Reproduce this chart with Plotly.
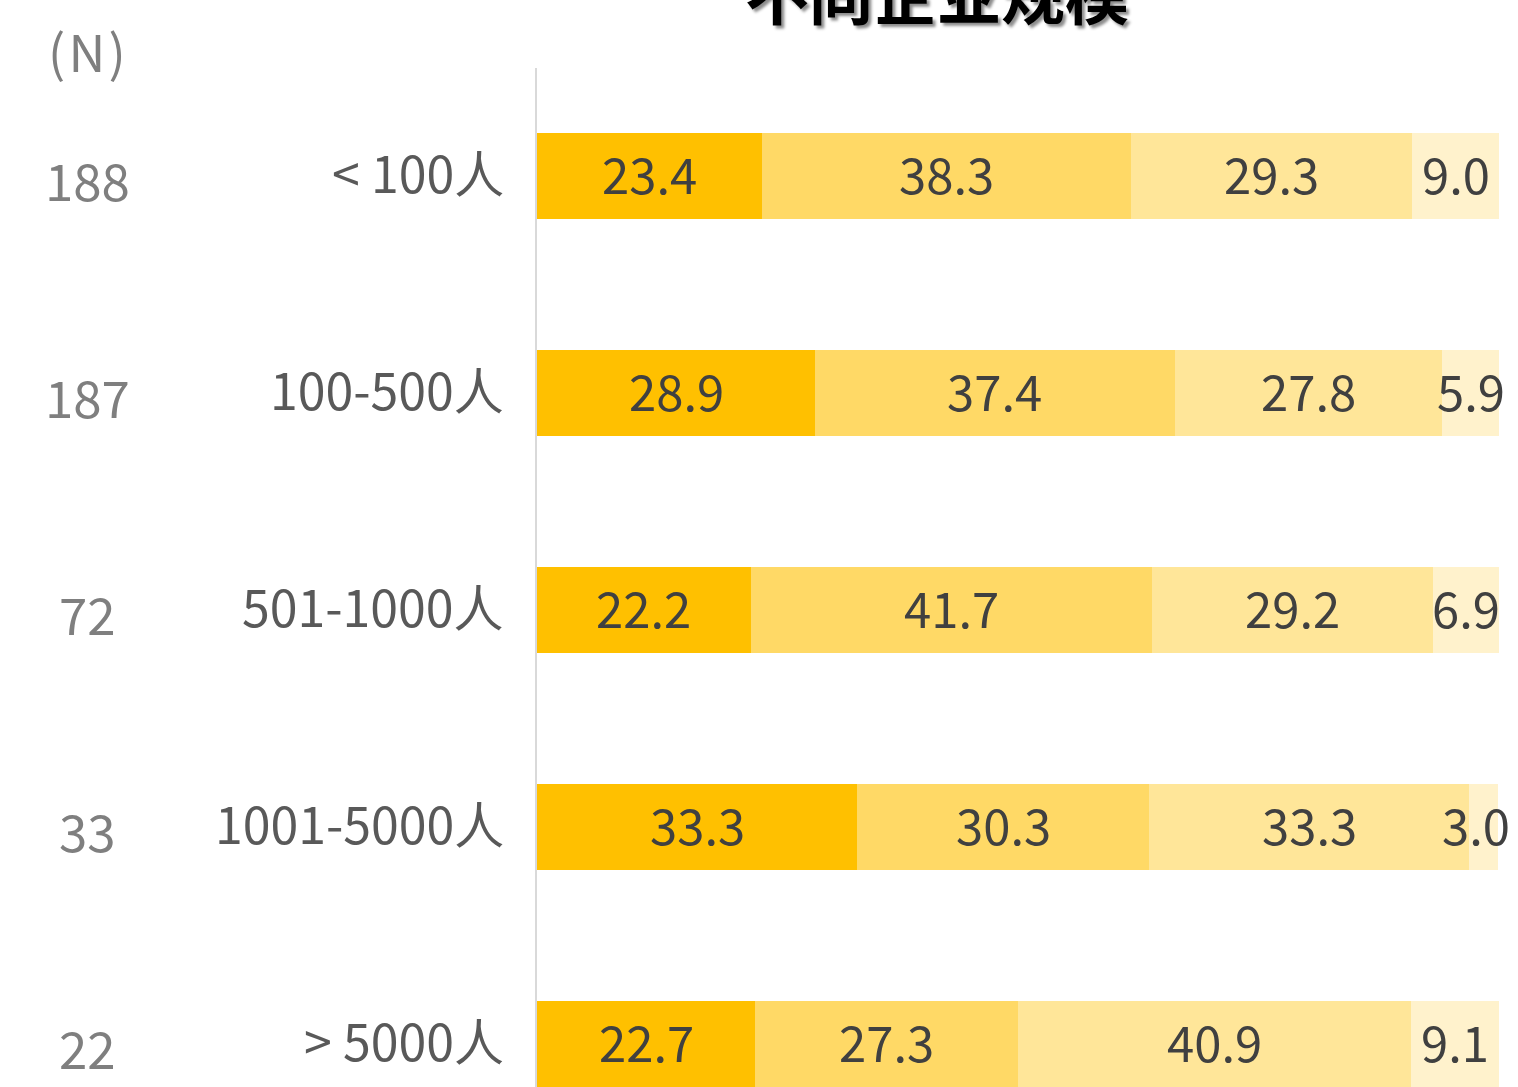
import plotly.graph_objects as go

# Company-size groups, sample sizes and the share of each response level (%)
categories = ["< 100人", "100-500人", "501-1000人", "1001-5000人", "> 5000人"]
sample_n = [188, 187, 72, 33, 22]
level_1 = [23.4, 28.9, 22.2, 33.3, 22.7]
level_2 = [38.3, 37.4, 41.7, 30.3, 27.3]
level_3 = [29.3, 27.8, 29.2, 33.3, 40.9]
level_4 = [9.0, 5.9, 6.9, 3.0, 9.1]
title_text = "不同企业规模"

series = [level_1, level_2, level_3, level_4]
colors = ["#FFC000", "#FFD966", "#FFE699", "#FFF2CC"]

W, H = 1518, 1087
L, R, T, B = 537, 19, 68, 0
plot_h = H - T - B
plot_w = W - L - R

def px_to_paper_y(py):
    return (H - B - py) / plot_h

def px_to_paper_x(px):
    return (px - L) / plot_w

rows = list(range(len(categories)))
font_main = "Noto Sans CJK SC"

fig = go.Figure()
for vals, col in zip(series, colors):
    fig.add_trace(go.Bar(
        x=vals, y=rows, orientation="h",
        marker=dict(color=col, line=dict(width=0)),
        width=0.396,
        hoverinfo="skip", showlegend=False,
    ))

annotations = []

# value labels, centred in each stacked segment (kept inside the right edge)
for i in rows:
    left = 0.0
    for vals in series:
        v = vals[i]
        mid = min(left + v / 2, 97.6)
        annotations.append(dict(
            x=mid, xref="x", y=i, yref="y", text=f"{v:.1f}",
            showarrow=False, xanchor="center", yanchor="middle", yshift=4,
            font=dict(family=font_main, size=49, color="#404040"),
        ))
        left += v

for i, (cat, n) in enumerate(zip(categories, sample_n)):
    annotations.append(dict(
        x=px_to_paper_x(506), xref="paper", y=i, yref="y",
        text=cat, showarrow=False, xanchor="right", yanchor="middle", yshift=5,
        font=dict(family=font_main, size=50, color="#595959"),
    ))
    annotations.append(dict(
        x=px_to_paper_x(87), xref="paper", y=i, yref="y",
        text=str(n), showarrow=False, xanchor="center", yanchor="middle", yshift=-3,
        font=dict(family=font_main, size=51, color="#7f7f7f"),
    ))
annotations.append(dict(
    x=px_to_paper_x(87), xref="paper", y=px_to_paper_y(50), yref="paper",
    text="(\u200aN\u200a)", showarrow=False, xanchor="center", yanchor="middle",
    font=dict(family=font_main, size=51, color="#7f7f7f"),
))
annotations.append(dict(
    x=px_to_paper_x(937), xref="paper", y=px_to_paper_y(-9), yref="paper",
    text="<b>" + title_text + "</b>", showarrow=False,
    xanchor="center", yanchor="middle",
    font=dict(family=font_main, size=64, color="#000000",
              shadow="3px 3px 3px rgba(0,0,0,0.45)"),
))

fig.update_layout(
    width=W, height=H,
    barmode="stack",
    margin=dict(l=L, r=R, t=T, b=B, pad=0),
    paper_bgcolor="white", plot_bgcolor="white",
    annotations=annotations,
    xaxis=dict(range=[0, 100], visible=False, fixedrange=True),
    yaxis=dict(range=[4.198, -0.498], showgrid=False, zeroline=False,
               showticklabels=False, ticks="", showline=True,
               linecolor="#d9d9d9", linewidth=1.5, fixedrange=True),
)

fig.write_html("out.html", config={"displayModeBar": False})
